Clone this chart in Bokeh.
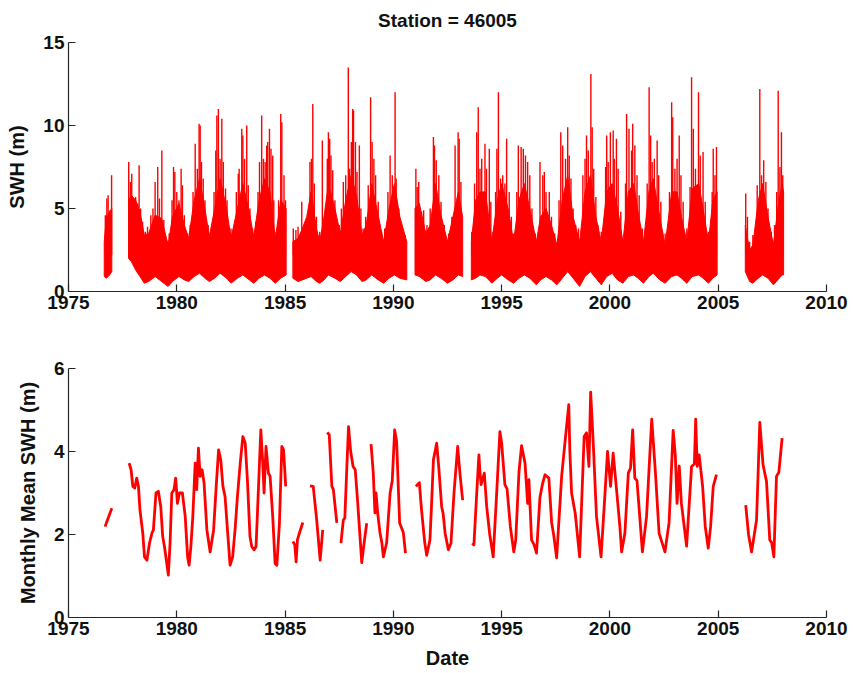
import math
from bokeh.plotting import figure
from bokeh.layouts import column
from bokeh.models import Range1d, FixedTicker, Title
from bokeh.embed import file_html
from bokeh.resources import INLINE

nan = float("nan")

# ---- Buoy 46005: hourly significant wave height --------------------------
# Dense part of the hourly record: time (decimal year), lower and upper edge (m).
# NaN rows mark data gaps.
env_year = [1976.65, 1976.75, 1976.90, 1977.00, nan,
            1977.77, 1977.90, 1978.10, 1978.30, 1978.50, 1978.70, 1979.00, 1979.30, 1979.60,
            1979.80, 1980.10, 1980.35, 1980.55, 1980.80, 1981.05, 1981.30, 1981.50, 1981.75,
            1982.00, 1982.30, 1982.50, 1982.80, 1983.05, 1983.35, 1983.55, 1983.80, 1984.05,
            1984.30, 1984.55, 1984.80, 1985.05, nan,
            1985.36, 1985.60, 1985.80, 1986.00, 1986.20, 1986.45, 1986.60, 1986.80, 1987.00,
            1987.30, 1987.55, 1987.80, 1988.05, 1988.30, 1988.55, 1988.75, 1989.00, 1989.30,
            1989.55, 1989.80, 1990.05, 1990.30, 1990.62, nan,
            1991.00, 1991.20, 1991.50, 1991.70, 1991.95, 1992.20, 1992.50, 1992.75, 1993.00,
            1993.20, nan,
            1993.60, 1993.80, 1994.00, 1994.25, 1994.55, 1994.80, 1995.00, 1995.30, 1995.55,
            1995.80, 1996.05, 1996.30, 1996.60, 1996.80, 1997.05, 1997.30, 1997.55, 1997.80,
            1998.05, 1998.30, 1998.60, 1998.85, 1999.10, 1999.35, 1999.60, 1999.85, 2000.10,
            2000.35, 2000.60, 2000.85, 2001.10, 2001.30, 2001.55, 2001.80, 2002.00, 2002.30,
            2002.55, 2002.85, 2003.10, 2003.30, 2003.55, 2003.80, 2004.10, 2004.30, 2004.55,
            2004.75, 2004.95, nan,
            2006.25, 2006.45, 2006.60, 2006.85, 2007.05, 2007.30, 2007.55, 2007.75, 2007.95,
            2008.02]
env_low = [0.9, 0.8, 1.0, 1.2, nan,
           2.0, 1.8, 1.3, 0.9, 0.5, 0.6, 0.9, 0.6, 0.3,
           0.6, 0.9, 0.7, 0.6, 0.9, 1.1, 0.8, 0.6, 0.8,
           1.1, 0.8, 0.5, 0.8, 1.0, 0.7, 0.5, 0.8, 1.0,
           0.8, 0.5, 0.8, 1.0, nan,
           0.8, 0.6, 0.7, 0.8, 0.9, 0.6, 0.5, 0.7, 1.0,
           0.8, 0.6, 0.9, 1.2, 1.0, 0.6, 0.7, 1.0, 0.7,
           0.5, 0.8, 1.0, 0.8, 0.7, nan,
           1.0, 0.9, 0.6, 0.7, 1.0, 0.8, 0.5, 0.7, 1.0,
           0.9, nan,
           0.7, 0.8, 1.0, 0.9, 0.5, 0.8, 1.0, 0.7, 0.5,
           0.8, 1.0, 0.8, 0.4, 0.7, 0.9, 0.7, 0.4, 0.8,
           1.2, 0.8, 0.3, 0.9, 1.2, 0.8, 0.4, 0.9, 1.1,
           0.7, 0.5, 0.9, 1.0, 0.8, 0.5, 0.9, 1.1, 0.7,
           0.5, 0.9, 1.0, 0.8, 0.5, 0.9, 1.0, 0.8, 0.5,
           0.8, 1.0, nan,
           1.2, 0.6, 0.5, 0.8, 1.0, 0.8, 0.4, 0.7, 1.0,
           1.0]
env_high = [3.0, 4.5, 4.8, 5.0, nan,
            5.5, 5.8, 5.5, 4.8, 3.4, 3.5, 4.6, 4.4, 2.8,
            4.5, 5.3, 4.0, 3.2, 5.5, 6.8, 5.0, 3.3, 5.0,
            6.8, 5.0, 3.2, 5.0, 6.5, 4.8, 3.3, 5.5, 6.8,
            6.0, 3.2, 5.5, 5.0, nan,
            3.0, 3.2, 3.8, 4.5, 6.0, 3.8, 3.0, 4.5, 6.5,
            5.0, 3.5, 5.5, 7.0, 5.8, 3.4, 4.0, 6.5, 4.6,
            3.0, 5.0, 6.5, 4.5, 3.0, nan,
            5.0, 5.3, 3.5, 4.0, 6.5, 4.6, 3.0, 4.5, 6.0,
            4.5, nan,
            3.0, 5.5, 6.0, 6.0, 3.0, 5.5, 6.5, 5.0, 3.0,
            5.5, 6.5, 5.0, 3.0, 4.5, 5.0, 4.0, 2.8, 5.5,
            7.0, 4.5, 3.0, 6.0, 7.0, 4.5, 3.0, 6.0, 6.5,
            5.0, 3.0, 6.0, 6.5, 4.8, 3.0, 6.0, 6.8, 4.5,
            2.8, 6.0, 6.0, 4.5, 3.0, 6.2, 6.5, 5.0, 3.0,
            5.5, 6.0, nan,
            4.0, 2.5, 2.8, 5.5, 6.5, 4.5, 2.8, 5.0, 6.5,
            6.0]

# Storm peaks rising out of the dense record
peak_year = [1976.70, 1976.77, 1976.83, 1976.92, 1976.99,
             1977.78, 1977.86, 1977.92, 1978.00, 1978.10, 1978.20, 1978.26, 1978.33, 1978.42,
             1978.55, 1978.65,
             1978.80, 1978.90, 1979.00, 1979.12, 1979.20, 1979.31, 1979.40,
             1979.55, 1979.65,
             1979.78, 1979.85, 1979.91, 1980.00, 1980.10, 1980.20, 1980.26, 1980.35,
             1980.50, 1980.62,
             1980.75, 1980.85, 1980.95, 1981.03, 1981.08, 1981.14, 1981.22, 1981.30,
             1981.45, 1981.60,
             1981.72, 1981.80, 1981.85, 1981.92, 1982.00, 1982.08, 1982.15, 1982.25, 1982.32,
             1982.50, 1982.60,
             1982.75, 1982.84, 1982.88, 1983.00, 1983.05, 1983.13, 1983.23, 1983.30, 1983.38,
             1983.50, 1983.65,
             1983.75, 1983.82, 1983.92, 1984.00, 1984.08, 1984.15, 1984.20, 1984.28, 1984.35,
             1984.43, 1984.48,
             1984.58, 1984.70, 1984.80, 1984.85, 1984.95, 1985.02,
             1985.38, 1985.50, 1985.60, 1985.77,
             1986.15, 1986.22, 1986.28, 1986.35, 1986.45, 1986.60, 1986.72,
             1986.95, 1987.00, 1987.06, 1987.12, 1987.20, 1987.30,
             1987.50, 1987.60,
             1987.69, 1987.80, 1987.92, 1987.98, 1988.06, 1988.12, 1988.16, 1988.25, 1988.32,
             1988.43, 1988.50,
             1988.60, 1988.72,
             1988.84, 1988.95, 1989.02, 1989.10, 1989.18, 1989.30,
             1989.45, 1989.60,
             1989.75, 1989.85, 1989.95, 1990.08, 1990.13, 1990.25, 1990.40, 1990.55,
             1991.04, 1991.10, 1991.17, 1991.30, 1991.40, 1991.55, 1991.70, 1991.85, 1991.90,
             1991.98, 1992.10, 1992.20, 1992.35,
             1992.55, 1992.70,
             1992.85, 1992.99, 1993.04, 1993.12,
             1993.62, 1993.75, 1993.85, 1993.92, 1994.00, 1994.08, 1994.23, 1994.30, 1994.43,
             1994.50,
             1994.60,
             1994.72, 1994.78, 1994.85, 1994.95, 1995.05, 1995.15, 1995.23, 1995.35, 1995.45,
             1995.55,
             1995.70, 1995.77, 1995.90, 1996.00, 1996.10, 1996.20, 1996.30, 1996.40,
             1996.55,
             1996.77, 1996.90, 1996.97, 1997.05, 1997.20, 1997.30,
             1997.45,
             1997.65, 1997.73, 1997.82, 1997.95, 1998.05, 1998.12, 1998.20, 1998.30, 1998.42,
             1998.55,
             1998.75, 1998.85, 1998.92, 1999.00, 1999.12, 1999.18, 1999.25, 1999.35, 1999.45,
             1999.60,
             1999.80, 1999.85, 1999.92, 2000.02, 2000.15, 2000.20, 2000.30, 2000.38, 2000.50,
             2000.72, 2000.77, 2000.88, 2001.00, 2001.05, 2001.15, 2001.25, 2001.35,
             2001.50,
             2001.72, 2001.81, 2001.88, 2001.95, 2002.05, 2002.18, 2002.25, 2002.35,
             2002.55,
             2002.75, 2002.85, 2002.90, 2003.00, 2003.10, 2003.20, 2003.28, 2003.38,
             2003.55,
             2003.70, 2003.77, 2003.85, 2003.95, 2004.09, 2004.17, 2004.30, 2004.40,
             2004.55,
             2004.72, 2004.77, 2004.85, 2004.92,
             2006.27, 2006.35, 2006.45, 2006.60, 2006.80, 2006.92, 2007.00, 2007.10, 2007.20,
             2007.30, 2007.45, 2007.60, 2007.70, 2007.77, 2007.85, 2007.92, 2007.98]
peak_swh = [4.6, 5.6, 5.8, 4.9, 7.0,
            7.8, 6.6, 7.1, 5.6, 5.7, 5.3, 7.6, 5.0, 4.2,
            3.6, 3.9,
            4.6, 5.0, 6.6, 7.5, 5.6, 8.5, 4.3,
            3.0, 3.5,
            5.5, 7.5, 7.2, 6.0, 5.5, 7.4, 6.4, 4.6,
            3.5, 4.0,
            6.0, 8.9, 7.4, 10.1, 10.0, 7.8, 6.8, 5.5,
            4.0, 3.8,
            6.0, 8.5, 10.6, 11.0, 8.0, 10.4, 7.8, 6.2, 5.5,
            3.8, 3.5,
            6.0, 7.1, 7.4, 9.8, 9.4, 8.0, 10.0, 6.4, 5.0,
            3.8, 4.2,
            6.0, 7.8, 10.6, 8.0, 7.8, 8.8, 9.0, 9.8, 8.6,
            8.2, 5.5,
            3.6, 5.5, 10.7, 10.2, 7.0, 5.5,
            3.8, 3.7, 3.9, 5.4,
            7.8, 8.0, 11.3, 6.5, 4.5, 3.6, 9.1,
            8.0, 9.6, 9.2, 8.2, 7.3, 5.5,
            4.0, 5.0,
            6.6, 7.0, 13.5, 7.4, 9.0, 11.0, 10.9, 9.0, 7.2,
            8.8, 5.0,
            3.8, 4.5,
            6.4, 11.7, 9.0, 8.0, 7.0, 5.4,
            3.6, 3.8,
            6.0, 8.2, 7.0, 12.0, 6.8, 5.0, 3.6, 3.4,
            7.4, 6.3, 6.6, 4.8, 4.9, 4.0, 5.0, 9.3, 8.8,
            7.9, 7.0, 5.4, 4.0,
            3.5, 4.5,
            8.8, 9.6, 9.2, 6.6,
            3.6, 6.5, 9.6, 11.1, 7.4, 8.0, 8.9, 7.4, 8.6,
            5.4,
            3.6,
            6.0, 8.6, 12.0, 6.8, 7.0, 6.5, 9.2, 6.0, 4.5,
            3.5,
            6.0, 8.8, 8.7, 8.6, 8.2, 7.8, 7.0, 5.0,
            3.5,
            7.8, 7.0, 7.2, 6.0, 6.0, 4.5,
            3.5,
            5.5, 9.6, 8.8, 8.0, 9.9, 8.2, 6.8, 5.0, 4.0,
            3.8,
            7.0, 8.0, 9.4, 8.5, 13.1, 9.9, 7.4, 5.7, 4.0,
            3.6,
            7.5, 9.4, 7.8, 9.6, 9.7, 8.0, 9.2, 7.4, 4.8,
            6.5, 10.7, 9.8, 8.5, 10.1, 8.8, 7.0, 5.8,
            3.8,
            6.5, 12.3, 9.4, 7.8, 8.0, 9.1, 7.0, 5.4,
            3.5,
            6.0, 11.4, 10.5, 7.4, 8.0, 9.4, 7.0, 5.4,
            3.8,
            6.3, 12.9, 9.8, 7.4, 12.0, 8.2, 8.4, 5.4,
            3.6,
            6.0, 8.6, 7.0, 8.7,
            5.9, 4.5, 3.0, 3.4, 6.4, 12.2, 7.0, 7.9, 6.6,
            5.0, 3.6, 4.0, 6.0, 12.1, 7.5, 9.6, 7.0]

# ---- Monthly mean SWH (m); NaN separates months without enough data -------
mm_year = [1976.69, 1976.80, 1977.00, nan,
           1977.80, 1977.89, 1977.97, 1978.06, 1978.15, 1978.23, 1978.30, 1978.43, 1978.51,
           1978.62, 1978.74, 1978.85, 1978.92, 1979.04, 1979.15, 1979.26, 1979.35, 1979.43,
           1979.54, 1979.61, 1979.69, 1979.77, 1979.87, 1979.95, 1980.03, 1980.12, 1980.26,
           1980.39, 1980.50, 1980.57, 1980.65, 1980.74, 1980.85, 1980.92, 1981.00, 1981.08,
           1981.17, 1981.26, 1981.39, 1981.54, 1981.70, 1981.82, 1981.93, 1982.03, 1982.13,
           1982.23, 1982.34, 1982.46, 1982.58, 1982.69, 1982.80, 1982.93, 1983.05, 1983.16,
           1983.26, 1983.38, 1983.46, 1983.57, 1983.66, 1983.73, 1983.88, 1983.97, 1984.03,
           1984.12, 1984.23, 1984.31, 1984.43, 1984.54, 1984.62, 1984.74, 1984.85, 1984.93,
           1985.03, nan,
           1985.36, 1985.45, 1985.51, 1985.57, 1985.66, 1985.82, nan,
           1986.15, 1986.30, 1986.46, 1986.62, 1986.74, nan,
           1986.95, 1987.04, 1987.16, 1987.23, 1987.39, nan,
           1987.58, 1987.69, 1987.76, 1987.85, 1987.93, 1988.03, 1988.14, 1988.24, 1988.35,
           1988.54, 1988.65, 1988.77, nan,
           1988.97, 1989.07, 1989.15, 1989.20, 1989.28, 1989.38, 1989.47, 1989.54, 1989.69,
           1989.85, 1989.95, 1990.06, 1990.15, 1990.29, 1990.46, 1990.56, nan,
           1991.04, 1991.20, 1991.30, 1991.45, 1991.54, 1991.69, 1991.77, 1991.85, 1992.00,
           1992.10, 1992.23, 1992.30, 1992.39, 1992.54, 1992.66, 1992.80, 1992.97, 1993.08,
           1993.20, nan,
           1993.64, 1993.72, 1993.85, 1993.95, 1994.00, 1994.05, 1994.20, 1994.31, 1994.45,
           1994.61, 1994.75, 1994.92, 1995.00, 1995.15, 1995.25, 1995.40, 1995.56, 1995.65,
           1995.80, 1995.92, 1996.08, 1996.20, 1996.26, 1996.38, 1996.50, 1996.61, 1996.77,
           1996.88, 1997.00, 1997.18, 1997.31, 1997.40, 1997.54, 1997.77, 1997.95, 1998.10,
           1998.15, 1998.23, 1998.40, 1998.60, 1998.81, 1998.92, 1999.03, 1999.11, 1999.23,
           1999.38, 1999.59, 1999.75, 1999.89, 2000.03, 2000.15, 2000.25, 2000.46, 2000.54,
           2000.69, 2000.85, 2000.95, 2001.05, 2001.15, 2001.25, 2001.50, 2001.69, 2001.93,
           2002.10, 2002.27, 2002.54, 2002.73, 2002.92, 2003.02, 2003.10, 2003.20, 2003.30,
           2003.54, 2003.77, 2003.90, 2003.96, 2004.03, 2004.12, 2004.28, 2004.40, 2004.54,
           2004.65, 2004.77, 2004.92, nan,
           2006.27, 2006.40, 2006.54, 2006.77, 2006.92, 2007.07, 2007.23, 2007.38, 2007.47,
           2007.57, 2007.69, 2007.80, 2007.95]
mm_swh = [2.19, 2.35, 2.63, nan,
          3.72, 3.56, 3.16, 3.12, 3.36, 3.16, 2.59, 2.03, 1.46,
          1.38, 1.79, 2.03, 2.11, 3.00, 3.04, 2.67, 1.95, 1.71,
          1.30, 1.02, 1.79, 3.00, 3.08, 3.36, 2.75, 3.00, 3.00,
          2.43, 1.46, 1.26, 1.71, 2.43, 3.72, 3.08, 4.08, 3.40,
          3.56, 3.24, 2.11, 1.58, 2.11, 3.16, 4.04, 3.80, 3.16,
          2.91, 2.11, 1.26, 1.46, 2.11, 2.91, 3.72, 4.36, 4.20,
          3.32, 1.95, 1.71, 1.63, 1.71, 2.59, 4.52, 3.72, 3.00,
          4.12, 3.48, 3.40, 2.43, 1.30, 1.26, 2.27, 4.12, 4.04,
          3.16, nan,
          1.83, 1.75, 1.34, 1.87, 2.03, 2.29, nan,
          3.17, 3.16, 2.35, 1.38, 2.11, nan,
          4.46, 4.40, 3.16, 3.08, 2.28, nan,
          1.79, 2.35, 2.40, 3.60, 4.60, 4.00, 3.64, 3.56, 2.80,
          1.32, 1.80, 2.27, nan,
          4.18, 3.50, 2.52, 3.00, 2.50, 2.05, 1.80, 1.46, 1.80,
          3.00, 3.30, 4.52, 4.25, 2.28, 2.05, 1.55, nan,
          3.16, 3.25, 2.60, 1.80, 1.50, 1.87, 2.80, 3.80, 4.20,
          3.60, 2.67, 2.50, 2.03, 1.63, 1.79, 3.00, 4.12, 3.44,
          2.83, nan,
          1.79, 1.75, 3.00, 3.92, 3.50, 3.20, 3.48, 2.67, 2.00,
          1.46, 2.80, 4.48, 4.20, 3.20, 3.10, 2.20, 1.58, 1.87,
          3.50, 4.14, 3.72, 2.75, 3.32, 1.87, 1.75, 1.55, 2.90,
          3.20, 3.44, 3.36, 2.28, 2.00, 1.44, 3.40, 4.36, 5.13,
          4.00, 3.00, 2.50, 1.46, 4.36, 4.45, 3.64, 5.43, 4.20,
          2.43, 1.46, 2.80, 4.00, 3.16, 3.96, 3.40, 2.19, 1.58,
          2.03, 3.48, 3.60, 4.52, 3.36, 3.30, 1.58, 2.43, 4.78,
          3.50, 2.03, 1.58, 2.28, 4.51, 3.90, 2.75, 3.65, 2.75,
          1.72, 3.64, 3.70, 4.78, 3.64, 3.92, 3.16, 2.20, 1.67,
          2.20, 3.16, 3.44, nan,
          2.71, 2.00, 1.58, 2.35, 4.70, 3.68, 3.28, 1.87, 1.80,
          1.46, 3.40, 3.50, 4.32]

year_ticks = [1975, 1980, 1985, 1990, 1995, 2000, 2005, 2010]
swh_ticks = [0, 5, 10, 15]
mean_ticks = [0, 2, 4, 6]

RED = "#ff0000"
INK = "#262626"
FONT = "Liberation Sans"


def split_runs(*cols):
    """Split parallel lists into runs separated by NaN entries."""
    runs, cur = [], [[] for _ in cols]
    for vals in zip(*cols):
        if any(isinstance(v, float) and math.isnan(v) for v in vals):
            if cur[0]:
                runs.append(cur)
            cur = [[] for _ in cols]
        else:
            for c, v in zip(cur, vals):
                c.append(v)
    if cur[0]:
        runs.append(cur)
    return runs


def style(p, yticks):
    p.outline_line_color = None
    p.xgrid.visible = False
    p.ygrid.visible = False
    p.background_fill_color = "white"
    p.border_fill_color = "white"
    p.xaxis.ticker = FixedTicker(ticks=year_ticks)
    p.yaxis.ticker = FixedTicker(ticks=yticks)
    for ax in (p.xaxis[0], p.yaxis[0]):
        ax.major_tick_in = 7
        ax.major_tick_out = 0
        ax.minor_tick_line_color = None
        ax.axis_line_color = INK
        ax.axis_line_width = 1.2
        ax.major_tick_line_color = INK
        ax.major_tick_line_width = 1.2
        ax.major_label_text_font = FONT
        ax.major_label_text_font_style = "bold"
        ax.major_label_text_font_size = "19px"
        ax.major_label_text_color = "#111111"
        ax.major_label_standoff = 4
        ax.axis_label_text_font = FONT
        ax.axis_label_text_font_style = "bold"
        ax.axis_label_text_font_size = "20px"
        ax.axis_label_text_color = "#111111"
    p.yaxis[0].axis_label_standoff = 12
    p.xaxis[0].axis_label_standoff = 9


# ---- top panel: hourly record ----
top = figure(width=853, height=330, output_backend="svg", toolbar_location=None,
             x_range=Range1d(1975, 2010), y_range=Range1d(0, 15),
             min_border_left=68, min_border_right=27, min_border_top=42, min_border_bottom=39)
# blank strip between the heading and the frame
top.add_layout(Title(text=" ", text_font_size="9px", standoff=0), "above")
top.title.text = "Station = 46005"
top.title.align = "center"
top.title.text_font = FONT
top.title.text_font_style = "bold"
top.title.text_font_size = "19px"
top.title.text_color = "#111111"
top.title.standoff = 0

poly_x, poly_y = [], []
for yrs, lo, hi in split_runs(env_year, env_low, env_high):
    poly_x.append(yrs + yrs[::-1])
    poly_y.append(hi + lo[::-1])
top.patches(poly_x, poly_y, fill_color=RED, line_color=RED, line_width=1)
top.segment(x0=peak_year, y0=2.2, x1=peak_year, y1=peak_swh, line_color=RED, line_width=1.4)
style(top, swh_ticks)
top.yaxis.axis_label = "SWH (m)"

# ---- bottom panel: monthly means ----
bot = figure(width=853, height=343, output_backend="svg", toolbar_location=None,
             x_range=Range1d(1975, 2010), y_range=Range1d(0, 6),
             min_border_left=68, min_border_right=27, min_border_top=38, min_border_bottom=56)
bot.line(mm_year, mm_swh, line_color=RED, line_width=2.8, line_join="round")
style(bot, mean_ticks)
bot.yaxis.axis_label = "Monthly Mean SWH (m)"
bot.xaxis.axis_label = "Date"

page = column(top, bot, spacing=0)
open("out.html", "w").write(file_html(page, INLINE))
